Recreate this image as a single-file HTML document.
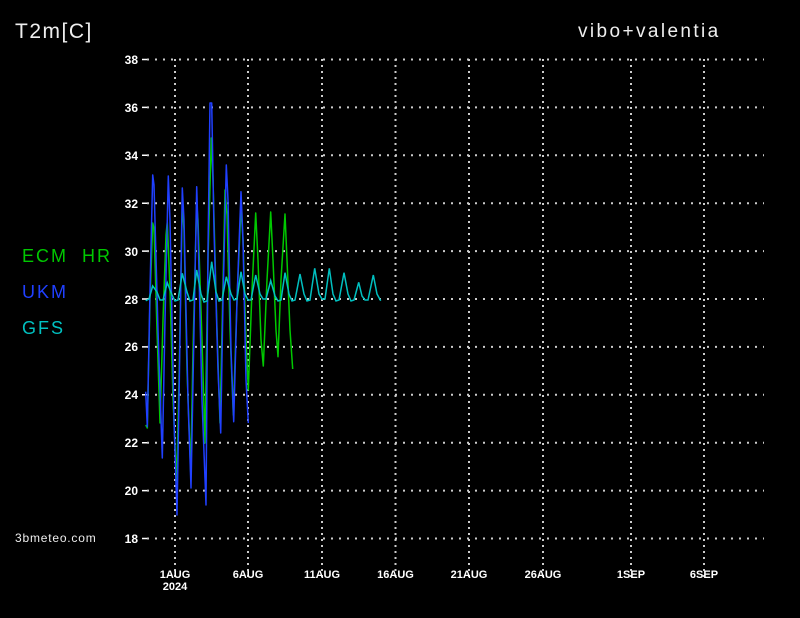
<!DOCTYPE html>
<html><head><meta charset="utf-8"><style>
html,body{margin:0;padding:0;background:#000;}
svg{display:block}
.t{font-family:"Liberation Sans",sans-serif;fill:#eee}
.yl{font-family:"Liberation Sans",sans-serif;font-weight:bold;font-size:12px;fill:#fff;text-anchor:end}
.xl{font-family:"Liberation Sans",sans-serif;font-weight:bold;font-size:11px;fill:#fff;text-anchor:middle}
</style></head><body>
<svg width="800" height="618" viewBox="0 0 800 618" xmlns="http://www.w3.org/2000/svg">
<rect width="800" height="618" fill="#000"/>
<text class="t" x="15" y="38" font-size="21" letter-spacing="1.5">T2m[C]</text>
<text class="t" x="578" y="37" font-size="19" letter-spacing="2.4">vibo+valentia</text>
<text x="22" y="262" font-family="Liberation Sans,sans-serif" font-size="18" letter-spacing="2" fill="#00c800" xml:space="preserve">ECM  HR</text>
<text x="22" y="298" font-family="Liberation Sans,sans-serif" font-size="18" letter-spacing="2" fill="#2040ff">UKM</text>
<text x="22" y="334" font-family="Liberation Sans,sans-serif" font-size="18" letter-spacing="2" fill="#00c0c0">GFS</text>
<text class="t" x="15" y="542" font-size="12" letter-spacing="0.8">3bmeteo.com</text>
<g stroke="#ccc" stroke-width="2" stroke-dasharray="2,6" fill="none">
<path d="M147 59.5H764M147 107.4H764M147 155.3H764M147 203.2H764M147 251.1H764M147 299H764M147 346.9H764M147 394.8H764M147 442.7H764M147 490.6H764M147 538.5H764"/>
</g>
<g stroke="#ccc" stroke-width="2" stroke-dasharray="2,4" fill="none">
<path d="M175 59V578M248 59V578M322 59V578M395.5 59V578M469 59V578M543 59V578M631 59V578M704 59V578"/>
</g>
<g stroke="#fff" stroke-width="1.5">
<path d="M142 59.5H147M142 107.4H147M142 155.3H147M142 203.2H147M142 251.1H147M142 299H147M142 346.9H147M142 394.8H147M142 442.7H147M142 490.6H147M142 538.5H147"/>
</g>
<g class="yl">
<text x="138" y="64">38</text><text x="138" y="112">36</text><text x="138" y="160">34</text><text x="138" y="208">32</text><text x="138" y="256">30</text><text x="138" y="304">28</text><text x="138" y="351">26</text><text x="138" y="399">24</text><text x="138" y="447">22</text><text x="138" y="495">20</text><text x="138" y="543">18</text>
</g>
<g class="xl">
<text x="175" y="578">1AUG</text><text x="175" y="590">2024</text>
<text x="248" y="578">6AUG</text><text x="322" y="578">11AUG</text><text x="395.5" y="578">16AUG</text><text x="469" y="578">21AUG</text><text x="543" y="578">26AUG</text><text x="631" y="578">1SEP</text><text x="704" y="578">6SEP</text>
</g>
<polyline fill="none" stroke="#00c800" stroke-width="1.5" stroke-linejoin="round" points="145.7,425 147.3,428 150,300 152.7,223 154,228 157,330 160,423 163,320 166,235 167.3,221.7 170,290 173,400 176.7,481.7 179,380 182.3,203 184,230 187,370 190.7,471.7 193,350 196.7,203 198,220 202,340 205,443 208,260 211.3,138 213,180 217,330 220,423 222,330 225,190 227,215 230,330 233.3,415 237,300 241,206.7 243,240 246,340 248.3,390 252,290 255.7,213 258,260 261,340 263.3,366 267,280 270.7,212 273,260 276,330 278,356.7 281,280 285,214 287,260 290,330 292.7,369"/>
<polyline fill="none" stroke="#2040ff" stroke-width="1.5" stroke-linejoin="round" points="145.7,391.7 147.3,426.7 150,290 152.7,175 154,185 158,330 162.3,458 165,320 168.3,176 170,220 174,420 177,515 179,400 182.3,188 184,220 188,400 191,488 194,330 196.7,186.7 198,230 202,400 206,505 208,250 210,103 211.7,103 214,230 218,370 220.7,433 223,300 226.3,165 228,200 231,350 233.7,421.7 237,300 241,191.7 243,240 246,380 248.3,423"/>
<polyline fill="none" stroke="#00c0c0" stroke-width="1.5" points="145.7,300.7 149,299 152.7,286 157,292 160,300 163,300 167.3,282.7 172,295 175,301 178,300 182.3,273.3 187,292 190,301 193,300 196.7,270 201,294 204,302 207,301 211.7,261.7 216,292 219,301 222,300 226.3,276.7 231,294 234,300 237,299 241,271.7 245,294 248,300 251,300 255.7,275 260,294 263,299 266,299 270.7,280.7 275,296 278,301 281,300 285,272.7 289,294 292,301 295,300 300,274 304,294 307,301 310,300 314.7,268.3 319,294 322,299 325,299 329.3,268.3 333,294 336,301 339,300 344,272.7 348,294 351,301 354,300 358.7,282.3 362,296 365,300 368,300 373.3,275 377,294 380.7,300.7"/>
</svg>
</body></html>
